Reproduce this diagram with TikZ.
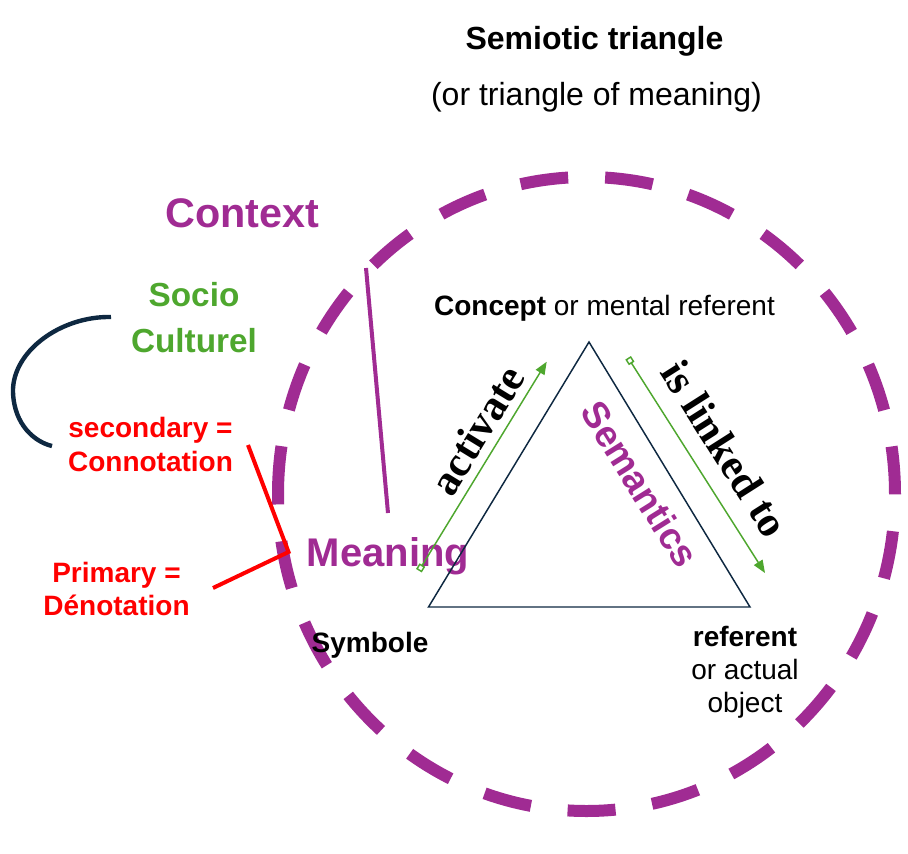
\documentclass[tikz,border=0pt]{standalone}
\usepackage{fontspec}
\setmainfont{Liberation Sans}
\newfontfamily\tnr{Liberation Serif}
\usetikzlibrary{arrows.meta}
\definecolor{ctxpurple}{HTML}{A02B93}
\definecolor{socgreen}{HTML}{4EA72E}
\definecolor{navyline}{HTML}{0E2841}
\definecolor{redtxt}{HTML}{FF0000}
\begin{document}
\begin{tikzpicture}[x=0.75pt,y=-0.75pt,
  txt/.style={inner sep=0pt, outer sep=0pt, anchor=base},
  big/.style={font=\fontsize{24}{28}\selectfont},
  bigb/.style={font=\bfseries\fontsize{24}{28}\selectfont},
  huge/.style={font=\bfseries\fontsize{31}{36}\selectfont, text=ctxpurple},
  soc/.style={font=\bfseries\fontsize{25}{30}\selectfont, text=socgreen},
  redlbl/.style={font=\bfseries\fontsize{21}{25}\selectfont, text=redtxt},
  norm/.style={font=\fontsize{21}{25}\selectfont},
  normb/.style={font=\bfseries\fontsize{21}{25}\selectfont},
  rotlbl/.style={inner sep=0pt, outer sep=0pt, anchor=center, font=\tnr\bfseries\fontsize{32}{36}\selectfont},
  ctxcircle/.style={draw=ctxpurple, line width=9pt, dash pattern=on 36pt off 27.75pt},
  purpleline/.style={draw=ctxpurple, line width=3pt},
  redline/.style={draw=redtxt, line width=3pt},
  navyarc/.style={draw=navyline, line width=3.3pt},
  triline/.style={draw=navyline, line width=1.1pt, line join=miter},
  greenarrow/.style={draw=socgreen, line width=1.1pt,
    arrows={Square[open,length=5pt,width=5pt]-Triangle[length=9.5pt,width=7.5pt,fill=socgreen]}}
]
\fill[white] (0,0) rectangle (908,854);
\useasboundingbox (0,0) rectangle (908,854);

% context circle
\coordinate (circleStart) at (278,494);
\draw[ctxcircle] (circleStart) arc[start angle=180, end angle=540, x radius=308.5, y radius=317];

% lines
\coordinate (ctxA) at (366,268);
\coordinate (ctxB) at (388,513);
\draw[purpleline] (ctxA) -- (ctxB);

\coordinate (redA) at (248,445);
\coordinate (redB) at (288.5,552);
\coordinate (redC) at (213,588);
\draw[redline] (redA) -- (redB) -- (redC);

\coordinate (arcA) at (111,317);
\coordinate (arcM) at (13,392);
\coordinate (arcB) at (52,446);
\draw[navyarc] (arcA) .. controls (60,316) and (12,352) .. (arcM) .. controls (14,425) and (35,442) .. (arcB);

% texts
\node[txt, bigb] (title) at (594.5,49) {Semiotic triangle};
\node[txt, big] (subtitle) at (596.5,105) {(or triangle of meaning)};
\node[txt, huge] (context) at (242.5,227) {Context};
\node[txt, soc] (socio) at (194,306) {Socio};
\node[txt, soc] (culturel) at (194,352) {Culturel};
\node[txt, redlbl] (secondary) at (150.5,437) {secondary =};
\node[txt, redlbl] (connotation) at (150.5,471) {Connotation};
\node[txt, redlbl] (primary) at (116.5,582) {Primary =};
\node[txt, redlbl] (denotation) at (116.5,615) {Dénotation};
\node[txt, huge, font=\bfseries\fontsize{30}{36}\selectfont] (meaning) at (388,566) {Meaning};
\node[txt, norm] (concept) at (604.5,315) {\textbf{Concept} or mental referent};
\node[txt, normb] (symbole) at (370,652) {Symbole};
\node[txt, normb] (referent) at (745,646) {referent};
\node[txt, norm] (oractual) at (745,679) {or actual};
\node[txt, norm] (object) at (745,712) {object};

\node[rotlbl, rotate=58.5] (activate) at (477,430) {activate};
\node[rotlbl, rotate=-57.5] (linked) at (725,449) {is linked to};
\node[rotlbl, rotate=-58, font=\bfseries\fontsize{28}{32}\selectfont, text=ctxpurple] (semantics) at (640,484) {Semantics};

% triangle
\coordinate (apex) at (589,342);
\coordinate (bl) at (428.5,607);
\coordinate (br) at (750,607);
\draw[triline] (apex) -- (br) -- (bl) -- cycle;

% arrows
\coordinate (actS) at (418.9,570.7);
\coordinate (actE) at (546.7,361.7);
\draw[greenarrow] (actS) -- (actE);
\coordinate (linkS) at (628.1,357.8);
\coordinate (linkE) at (765,573);
\draw[greenarrow] (linkS) -- (linkE);
\end{tikzpicture}
\end{document}
